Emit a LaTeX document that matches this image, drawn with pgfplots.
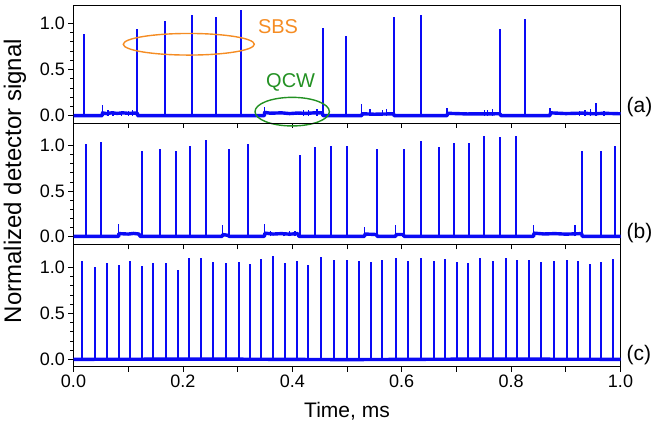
\documentclass[border=0pt]{standalone}
\usepackage{pgfplots}
\pgfplotsset{compat=1.18}
\usepackage{fontspec}
\setmainfont{Liberation Sans}
\definecolor{sbsorange}{RGB}{245,140,35}
\definecolor{qcwgreen}{RGB}{35,145,35}
\definecolor{trace}{RGB}{10,10,245}
\pgfplotsset{panel/.style={
  scale only axis, width=547pt, xmin=0, xmax=1, clip=false,
  axis line style={line width=0.9pt},
  tick align=outside, xtick pos=bottom, ytick pos=left,
  xtick={0,0.1,0.2,0.3,0.4,0.5,0.6,0.7,0.8,0.9,1},
  xticklabels={},
  major tick length=5pt, minor tick length=3pt,
  ytick={0,0.5,1}, minor y tick num=4,
  yticklabel style={/pgf/number format/.cd, fixed, fixed zerofill, precision=1},
  /pgf/number format/assume math mode=true,
  tick label style={font=\fontsize{18}{20}\selectfont},
  tick style={black, line width=0.8pt},
  base/.style={trace, line width=3.4pt, line join=round},
  spk/.style={trace, line width=2pt, ycomb},
}}
\begin{document}
\begin{tikzpicture}
\path[use as bounding box] (0pt,0pt) rectangle (657pt,427pt);
% ---------------- panel (a)
\begin{axis}[panel, name=pa, at={(73.5pt,304pt)}, anchor=south west, height=118pt, ymin=-0.08, ymax=1.2]
\addplot[base] coordinates {(0,0) (0.0527,0) (0.053,0.03) (0.06,0.022) (0.07,0.03) (0.08,0.024) (0.09,0.03) (0.1,0.025) (0.1166,0.028) (0.117,0) (0.349,0) (0.3495,0.035) (0.36,0.026) (0.38,0.03) (0.395,0.022) (0.41,0.028) (0.425,0.024) (0.44,0.03) (0.455,0.03) (0.456,0) (0.527,0) (0.528,0.02) (0.55,0.015) (0.585,0.02) (0.586,0) (0.683,0) (0.684,0.025) (0.72,0.018) (0.78,0.02) (0.781,0) (0.871,0) (0.872,0.03) (0.9,0.022) (0.93,0.027) (0.95,0.02) (0.97,0.025) (1.0,0.02)};
\addplot[spk] coordinates {(0.0197,0.885) (0.1155,0.94) (0.1678,1.025) (0.2172,1.09) (0.26,1.07) (0.3062,1.15) (0.4556,0.95) (0.4982,0.86) (0.5854,1.07) (0.6347,1.09) (0.7803,0.94) (0.8249,1.05)};
\addplot[spk, line width=1.3pt] coordinates {(0.0535,0.11) (0.063,0.06) (0.072,0.055) (0.088,0.05) (0.1,0.055) (0.108,0.06) (0.3495,0.09) (0.42,0.06) (0.429,0.065) (0.445,0.07) (0.527,0.13) (0.542,0.07) (0.5645,0.06) (0.5726,0.07) (0.683,0.08) (0.751,0.06) (0.757,0.06) (0.766,0.07) (0.871,0.08) (0.925,0.05) (0.935,0.06) (0.945,0.07) (0.955,0.14) (0.97,0.05)};
\draw[sbsorange, line width=1.4pt] (axis cs:0.2108,0.774) ellipse [x radius=65.5pt, y radius=10.8pt];
\draw[qcwgreen, line width=1.4pt] (axis cs:0.3998,0.043) ellipse [x radius=37.2pt, y radius=14.3pt];
\node[sbsorange, font=\fontsize{20}{22}\selectfont] at (axis cs:0.374,0.967) {SBS};
\node[qcwgreen, font=\fontsize{20}{22}\selectfont] at (axis cs:0.397,0.356) {QCW};
\node[anchor=west, font=\fontsize{21}{22}\selectfont, inner sep=0pt] at (axis cs:1.011,0.09) {(a)};
\end{axis}
% ---------------- panel (b)
\begin{axis}[panel, name=pb, at={(73.5pt,182.5pt)}, anchor=south west, height=121.5pt, ymin=-0.09, ymax=1.25]
\addplot[base] coordinates {(0,0) (0.0826,0) (0.083,0.03) (0.1,0.025) (0.11,0.032) (0.12,0.025) (0.1216,0) (0.272,0) (0.273,0.02) (0.283,0.01) (0.284,0) (0.349,0) (0.35,0.035) (0.365,0.025) (0.38,0.03) (0.395,0.024) (0.41,0.03) (0.412,0) (0.532,0) (0.533,0.025) (0.554,0.02) (0.555,0) (0.589,0) (0.59,0.02) (0.603,0.02) (0.604,0) (0.841,0) (0.842,0.035) (0.86,0.026) (0.88,0.03) (0.9,0.024) (0.929,0.03) (0.93,0) (1,0)};
\addplot[spk] coordinates {(0.0223,1.02) (0.0508,1.04) (0.1258,0.94) (0.1581,0.96) (0.1874,0.94) (0.2130,1.0) (0.2417,1.06) (0.2843,0.96) (0.3185,1.02) (0.4135,0.90) (0.4420,0.985) (0.4713,1.0) (0.5005,1.0) (0.5554,0.967) (0.6036,0.96) (0.6353,1.05) (0.6687,0.99) (0.6956,1.03) (0.7225,1.03) (0.7505,1.11) (0.7803,1.09) (0.8089,1.11) (0.9302,0.945) (0.9643,0.94) (0.9894,1.0)};
\addplot[spk, line width=1.3pt] coordinates {(0.0826,0.137) (0.272,0.13) (0.3495,0.14) (0.36,0.06) (0.385,0.05) (0.395,0.06) (0.405,0.06) (0.532,0.1) (0.589,0.13) (0.841,0.13) (0.917,0.13)};
\node[anchor=west, font=\fontsize{21}{22}\selectfont, inner sep=0pt] at (axis cs:1.011,0.04) {(b)};
\end{axis}
% ---------------- panel (c)
\begin{axis}[panel, name=pc, at={(73.5pt,60.3pt)}, anchor=south west, height=122.2pt, ymin=-0.08, ymax=1.25,
  xticklabels={0.0,{},0.2,{},0.4,{},0.6,{},0.8,{},1.0}]
\addplot[base] coordinates {(0,0) (0.25,0.003) (0.5,-0.003) (0.75,0.003) (1,0)};
\addplot[spk] coordinates {(0.0155,1.073) (0.0388,1.0) (0.0618,1.05) (0.0826,1.025) (0.1033,1.07) (0.1252,1.02) (0.1459,1.05) (0.1686,1.05) (0.1916,0.97) (0.2111,1.10) (0.2336,1.10) (0.255,1.06) (0.2788,1.05) (0.302,1.06) (0.3232,1.04) (0.3433,1.09) (0.3647,1.12) (0.3867,1.05) (0.408,1.07) (0.4293,1.03) (0.4525,1.11) (0.4757,1.08) (0.4995,1.08) (0.522,1.065) (0.5439,1.055) (0.5645,1.08) (0.5896,1.10) (0.6115,1.07) (0.6353,1.10) (0.6585,1.065) (0.6786,1.09) (0.7005,1.06) (0.7212,1.05) (0.7426,1.10) (0.7669,1.07) (0.7901,1.10) (0.8113,1.08) (0.8327,1.08) (0.8547,1.06) (0.8779,1.065) (0.9022,1.08) (0.9223,1.07) (0.9442,1.04) (0.9649,1.06) (0.9868,1.09)};
\node[anchor=west, font=\fontsize{21}{22}\selectfont, inner sep=0pt] at (axis cs:1.011,0.05) {(c)};
\end{axis}
\node[rotate=90, font=\fontsize{24}{26}\selectfont] at (15pt,246pt) {Normalized detector signal};
\node[font=\fontsize{21}{23}\selectfont] at (347pt,16pt) {Time, ms};
\end{tikzpicture}
\end{document}
